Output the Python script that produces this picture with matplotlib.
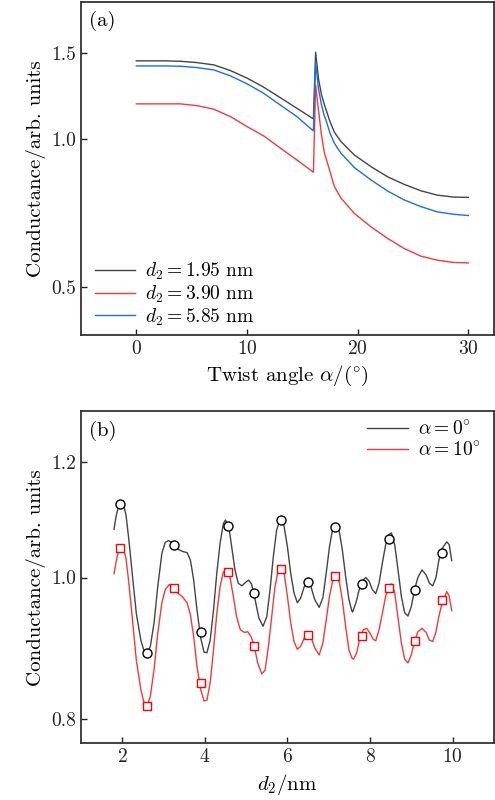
import matplotlib
matplotlib.use('Agg')
import matplotlib.pyplot as plt
from matplotlib.ticker import FixedLocator, FixedFormatter, NullLocator

plt.rcParams['font.family'] = 'serif'
plt.rcParams['font.serif'] = ['cmr10']
plt.rcParams['mathtext.fontset'] = 'cm'
plt.rcParams['axes.formatter.use_mathtext'] = True
plt.rcParams['axes.unicode_minus'] = False

# panel (a): conductance vs twist angle
angle = [0, 2.5, 4, 5.5, 7, 8.5, 10, 11.5, 13, 14.5, 16.0, 16.2, 16.45, 16.73, 17.0, 17.1,
         17.5, 17.9, 18.5, 19.7, 21.2, 22.7, 24.2, 25.7, 27.2, 28.7, 30]
g_195 = [1.443, 1.443, 1.440, 1.431, 1.416, 1.379, 1.331, 1.276, 1.215, 1.156, 1.100, 1.503,
         1.331, 1.231, 1.174, 1.156, 1.086, 1.033, 0.989, 0.929, 0.880, 0.839, 0.810, 0.786,
         0.770, 0.763, 0.762]
g_390 = [1.180, 1.180, 1.180, 1.170, 1.151, 1.112, 1.061, 1.016, 0.960, 0.908, 0.857, 1.289,
         1.150, 1.020, 0.936, 0.922, 0.859, 0.801, 0.759, 0.707, 0.664, 0.629, 0.600, 0.579,
         0.568, 0.562, 0.561]
g_585 = [1.409, 1.409, 1.407, 1.398, 1.383, 1.345, 1.296, 1.240, 1.174, 1.112, 1.040, 1.438,
         1.270, 1.174, 1.112, 1.100, 1.029, 0.981, 0.936, 0.876, 0.827, 0.785, 0.753, 0.730,
         0.712, 0.704, 0.700]

# panel (b): conductance vs d2
d2_a0 = [1.80, 1.85, 1.905, 1.97, 2.03, 2.09, 2.16, 2.24, 2.34, 2.45, 2.53, 2.60, 2.68, 2.77,
         2.86, 2.96, 3.04, 3.12, 3.22, 3.34, 3.46, 3.57, 3.65, 3.73, 3.81, 3.90, 3.98, 4.05,
         4.13, 4.21, 4.29, 4.37, 4.45, 4.50, 4.58, 4.65, 4.73, 4.81, 4.90, 4.98, 5.06, 5.13,
         5.22, 5.31, 5.41, 5.50, 5.58, 5.66, 5.74, 5.82, 5.89, 5.92, 6.00, 6.08, 6.16, 6.24,
         6.32, 6.41, 6.49, 6.57, 6.66, 6.77, 6.86, 6.94, 7.02, 7.10, 7.17, 7.25, 7.33, 7.41,
         7.49, 7.56, 7.58, 7.66, 7.74, 7.82, 7.90, 7.98, 8.06, 8.14, 8.22, 8.30, 8.38, 8.46,
         8.52, 8.60, 8.68, 8.76, 8.84, 8.92, 9.00, 9.08, 9.16, 9.26, 9.36, 9.44, 9.52, 9.60,
         9.67, 9.75, 9.86, 9.92, 9.98]
g_a0 = [1.079, 1.101, 1.118, 1.126, 1.121, 1.104, 1.061, 1.007, 0.945, 0.906, 0.890, 0.887,
        0.897, 0.931, 0.986, 1.039, 1.057, 1.060, 1.056, 1.046, 1.042, 1.040, 1.028, 0.996,
        0.950, 0.909, 0.889, 0.888, 0.906, 0.950, 1.007, 1.056, 1.089, 1.095, 1.084, 1.050,
        1.012, 0.991, 0.987, 0.992, 0.996, 0.990, 0.965, 0.938, 0.926, 0.940, 0.981, 1.034,
        1.078, 1.095, 1.094, 1.084, 1.050, 1.007, 0.976, 0.961, 0.968, 0.986, 0.993, 0.986,
        0.966, 0.954, 0.969, 1.007, 1.050, 1.081, 1.087, 1.078, 1.045, 1.002, 0.966, 0.949,
        0.947, 0.961, 0.981, 0.995, 1.000, 0.994, 0.981, 0.975, 0.991, 1.023, 1.053, 1.070,
        1.073, 1.053, 1.012, 0.971, 0.946, 0.941, 0.955, 0.981, 1.000, 1.012, 1.004, 0.991,
        0.987, 1.000, 1.028, 1.047, 1.058, 1.053, 1.027]
d2_a10 = [1.80, 1.85, 1.905, 1.97, 2.03, 2.09, 2.16, 2.24, 2.34, 2.45, 2.53, 2.60, 2.68, 2.77,
          2.86, 2.96, 3.04, 3.14, 3.24, 3.34, 3.46, 3.57, 3.65, 3.73, 3.81, 3.90, 3.98, 4.05,
          4.13, 4.21, 4.29, 4.37, 4.45, 4.53, 4.61, 4.69, 4.77, 4.86, 4.96, 5.04, 5.12, 5.20,
          5.28, 5.38, 5.46, 5.54, 5.62, 5.70, 5.78, 5.86, 5.92, 6.00, 6.08, 6.16, 6.24, 6.32,
          6.41, 6.49, 6.57, 6.66, 6.77, 6.86, 6.94, 7.02, 7.10, 7.17, 7.25, 7.33, 7.41, 7.49,
          7.56, 7.60, 7.68, 7.76, 7.84, 7.92, 8.00, 8.08, 8.14, 8.22, 8.30, 8.38, 8.46, 8.52,
          8.60, 8.68, 8.76, 8.84, 8.92, 9.00, 9.08, 9.16, 9.26, 9.36, 9.44, 9.52, 9.60, 9.67,
          9.75, 9.86, 9.92, 9.98]
g_a10 = [1.006, 1.025, 1.042, 1.050, 1.046, 1.031, 0.991, 0.940, 0.878, 0.838, 0.820, 0.817,
         0.829, 0.865, 0.916, 0.961, 0.981, 0.989, 0.985, 0.976, 0.970, 0.961, 0.943, 0.911,
         0.869, 0.838, 0.823, 0.824, 0.847, 0.892, 0.945, 0.986, 1.009, 1.013, 1.000, 0.971,
         0.940, 0.921, 0.917, 0.918, 0.911, 0.897, 0.874, 0.859, 0.864, 0.897, 0.940, 0.986,
         1.012, 1.019, 1.007, 0.971, 0.931, 0.904, 0.893, 0.897, 0.909, 0.917, 0.911, 0.895,
         0.885, 0.902, 0.935, 0.971, 0.996, 1.004, 0.996, 0.966, 0.926, 0.892, 0.881, 0.879,
         0.888, 0.911, 0.921, 0.923, 0.916, 0.907, 0.905, 0.921, 0.945, 0.971, 0.987, 0.990,
         0.976, 0.938, 0.902, 0.879, 0.874, 0.885, 0.904, 0.918, 0.923, 0.917, 0.906, 0.904,
         0.918, 0.941, 0.961, 0.978, 0.971, 0.949]

d2_pts = [1.95, 2.60, 3.25, 3.90, 4.55, 5.20, 5.85, 6.50, 7.15, 7.80, 8.45, 9.10, 9.75]
g_pts_a0 = [1.123, 0.888, 1.052, 0.917, 1.085, 0.976, 1.095, 0.993, 1.083, 0.990, 1.062,
            0.980, 1.040]
g_pts_a10 = [1.048, 0.817, 0.984, 0.847, 1.008, 0.898, 1.013, 0.914, 1.002, 0.912, 0.984,
             0.905, 0.965]

TICK_FS = 14
LABEL_FS = 15
LEG_FS = 14


def style_axes(ax, yticks, yticklabels):
    ax.set_yscale('log')
    ax.yaxis.set_major_locator(FixedLocator(yticks))
    ax.yaxis.set_major_formatter(FixedFormatter(yticklabels))
    ax.yaxis.set_minor_locator(NullLocator())
    ax.tick_params(direction='in', length=4, width=1, labelsize=TICK_FS, colors='#222222')
    for s in ax.spines.values():
        s.set_linewidth(1.3)
        s.set_color('#333333')


def plot():
    fig = plt.figure(figsize=(4.95, 8.0), dpi=100)

    ax1 = fig.add_axes([0.1636, 0.581, 0.834, 0.4165])
    ax1.plot(angle, g_195, color='#444444', lw=1.0, label=r'$d_2 = 1.95\ \mathrm{nm}$')
    ax1.plot(angle, g_390, color='#f23a3a', lw=1.0, label=r'$d_2 = 3.90\ \mathrm{nm}$')
    ax1.plot(angle, g_585, color='#1c6fe3', lw=1.0, label=r'$d_2 = 5.85\ \mathrm{nm}$')
    ax1.set_xlim(-5, 32.3)
    ax1.set_ylim(0.40, 1.90)
    style_axes(ax1, [0.5, 1.0, 1.5], ['0.5', '1.0', '1.5'])
    ax1.set_xticks([0, 10, 20, 30])
    ax1.set_xlabel(r'Twist angle $\alpha/(^{\circ})$', fontsize=LABEL_FS)
    ax1.set_ylabel('Conductance/arb. units', fontsize=LABEL_FS)
    ax1.text(0.02, 0.972, '(a)', transform=ax1.transAxes, fontsize=LABEL_FS, va='top')
    ax1.legend(loc='lower left', bbox_to_anchor=(0.0, -0.018), frameon=False,
               fontsize=LEG_FS, handlelength=2.1, labelspacing=0.07, borderaxespad=0.3,
               handletextpad=0.5)

    ax2 = fig.add_axes([0.1636, 0.071, 0.834, 0.415])
    ax2.plot(d2_a0, g_a0, color='#444444', lw=1.0, label=r'$\alpha = 0^{\circ}$')
    ax2.plot(d2_a10, g_a10, color='#f23a3a', lw=1.0, label=r'$\alpha = 10^{\circ}$')
    ax2.plot(d2_pts, g_pts_a0, 'o', ms=6.5, mfc='white', mec='black', mew=1.0)
    ax2.plot(d2_pts, g_pts_a10, 's', ms=6, mfc='white', mec='red', mew=1.0)
    ax2.set_xlim(1.0, 11.0)
    ax2.set_ylim(0.77, 1.30)
    style_axes(ax2, [0.8, 1.0, 1.2], ['0.8', '1.0', '1.2'])
    ax2.set_xticks([2, 4, 6, 8, 10])
    ax2.set_xlabel(r'$d_2/\mathrm{nm}$', fontsize=LABEL_FS)
    ax2.set_ylabel('Conductance/arb. units', fontsize=LABEL_FS)
    ax2.text(0.02, 0.972, '(b)', transform=ax2.transAxes, fontsize=LABEL_FS, va='top')
    ax2.legend(loc='upper right', bbox_to_anchor=(1.0, 1.012), frameon=False,
               fontsize=LEG_FS, handlelength=2.1, labelspacing=0.1, borderaxespad=0.3,
               handletextpad=0.5)

    fig.savefig('out.png', dpi=100)


if __name__ == '__main__':
    plot()
